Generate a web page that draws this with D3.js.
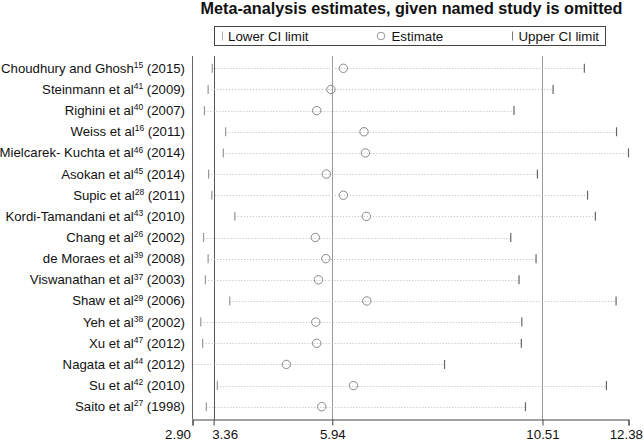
<!DOCTYPE html>
<html>
<head>
<meta charset="utf-8">
<script src="https://cdn.jsdelivr.net/npm/d3@7"></script>
<style>
  html, body { margin: 0; padding: 0; background: #fff; }
  svg { display: block; font-family: "Liberation Sans", Arial, sans-serif; }
</style>
</head>
<body>
<svg id="chart" width="644" height="442"></svg>
<script>
const studyNames = ["Choudhury and Ghosh", "Steinmann et al", "Righini et al", "Weiss et al",
  "Mielcarek- Kuchta et al", "Asokan et al", "Supic et al", "Kordi-Tamandani et al",
  "Chang et al", "de Moraes et al", "Viswanathan et al", "Shaw et al", "Yeh et al",
  "Xu et al", "Nagata et al", "Su et al", "Saito et al"];
const studyRefs = ["15", "41", "40", "16", "46", "45", "28", "43", "26", "39", "37", "29", "38", "47", "44", "42", "27"];
const studyYears = ["2015", "2009", "2007", "2011", "2014", "2014", "2011", "2010", "2002", "2008", "2003", "2006", "2002", "2012", "2012", "2010", "1998"];
const lowerCI = [3.33, 3.24, 3.16, 3.62, 3.57, 3.25, 3.32, 3.82, 3.14, 3.24, 3.18, 3.71, 3.08, 3.12, 2.90, 3.44, 3.20];
const estimate = [6.18, 5.91, 5.60, 6.63, 6.66, 5.81, 6.18, 6.68, 5.57, 5.80, 5.64, 6.69, 5.58, 5.60, 4.94, 6.40, 5.71];
const upperCI = [11.42, 10.74, 9.89, 12.12, 12.38, 10.40, 11.49, 11.66, 9.82, 10.37, 10.00, 12.11, 10.06, 10.05, 8.38, 11.90, 10.14];
const xTicks = [2.90, 3.36, 5.94, 10.51, 12.38];
const refLines = [3.36, 5.94, 10.51];
const legendLabels = ["Lower CI limit", "Estimate", "Upper CI limit"];
const chartTitle = "Meta-analysis estimates, given named study is omitted";

const svg = d3.select("#chart");
const pLeft = 192.5, pRight = 628.5, pTop = 56, pBottom = 419.5;

const x = d3.scaleLinear().domain([2.90, 12.38]).range([pLeft, pRight]);
const idx = d3.range(studyNames.length);
const y = d3.scalePoint().domain(idx).range([68.3, 406.7]);

// title
svg.append("text").attr("x", (pLeft + pRight) / 2 + 1).attr("y", 14)
  .attr("text-anchor", "middle").attr("font-weight", "bold").attr("font-size", 16.2)
  .attr("fill", "#111").text(chartTitle);

// legend
const lg = svg.append("g");
lg.append("rect").attr("x", 214.5).attr("y", 26.5).attr("width", 391).attr("height", 19)
  .attr("fill", "#fff").attr("stroke", "#444").attr("stroke-width", 1);
lg.append("line").attr("x1", 222.5).attr("x2", 222.5).attr("y1", 31.5).attr("y2", 40.5)
  .attr("stroke", "#aaa");
lg.append("text").attr("x", 228).attr("y", 41).attr("font-size", 13.3).attr("fill", "#111").text(legendLabels[0]);
lg.append("circle").attr("cx", 381).attr("cy", 36).attr("r", 3.8).attr("fill", "none").attr("stroke", "#999");
lg.append("text").attr("x", 391.5).attr("y", 41).attr("font-size", 13.3).attr("fill", "#111").text(legendLabels[1]);
lg.append("line").attr("x1", 512.5).attr("x2", 512.5).attr("y1", 31.5).attr("y2", 40.5)
  .attr("stroke", "#777");
lg.append("text").attr("x", 518.5).attr("y", 41).attr("font-size", 13.3).attr("fill", "#111").text(legendLabels[2]);

// reference lines
svg.selectAll("line.ref").data(refLines).enter().append("line")
  .attr("class", "ref")
  .attr("x1", d => Math.round(x(d)) + 0.5).attr("x2", d => Math.round(x(d)) + 0.5)
  .attr("y1", pTop).attr("y2", pBottom)
  .attr("stroke", (d, i) => i === 0 ? "#555" : "#999").attr("stroke-width", 1);

// dotted CI lines
svg.selectAll("line.ci").data(idx).enter().append("line")
  .attr("class", "ci")
  .attr("x1", i => x(lowerCI[i])).attr("x2", i => x(upperCI[i]))
  .attr("y1", i => Math.round(y(i)) + 0.5).attr("y2", i => Math.round(y(i)) + 0.5)
  .attr("stroke", "#bbb").attr("stroke-width", 1).attr("stroke-dasharray", "1,2");

// lower ticks
svg.selectAll("line.lo").data(idx).enter().append("line")
  .attr("class", "lo")
  .attr("x1", i => x(lowerCI[i])).attr("x2", i => x(lowerCI[i]))
  .attr("y1", i => y(i) - 4.5).attr("y2", i => y(i) + 4.5)
  .attr("stroke", "#999").attr("stroke-width", 1.2);

// upper ticks
svg.selectAll("line.up").data(idx).enter().append("line")
  .attr("class", "up")
  .attr("x1", i => x(upperCI[i])).attr("x2", i => x(upperCI[i]))
  .attr("y1", i => y(i) - 4.5).attr("y2", i => y(i) + 4.5)
  .attr("stroke", "#666").attr("stroke-width", 1.2);

// estimates
svg.selectAll("circle.est").data(idx).enter().append("circle")
  .attr("class", "est")
  .attr("cx", i => x(estimate[i])).attr("cy", i => y(i)).attr("r", 4.2)
  .attr("fill", "none").attr("stroke", "#888").attr("stroke-width", 1);

// y axis line
svg.append("line").attr("x1", pLeft).attr("x2", pLeft).attr("y1", pTop).attr("y2", pBottom)
  .attr("stroke", "#666");

// y labels
const yl = svg.selectAll("text.ylab").data(idx).enter().append("text")
  .attr("class", "ylab")
  .attr("x", 185).attr("y", i => y(i) + 4.5)
  .attr("text-anchor", "end").attr("font-size", 13.2).attr("fill", "#111");
yl.append("tspan").text(i => studyNames[i]);
yl.append("tspan").attr("font-size", 8.5).attr("dy", -4.8).text(i => studyRefs[i]);
yl.append("tspan").attr("dy", 4.8).text(i => " (" + studyYears[i] + ")");

// x axis
const xAxis = d3.axisBottom(x).tickValues(xTicks).tickFormat(d3.format(".2f")).tickSizeOuter(0).tickSize(6);
const gx = svg.append("g").attr("transform", `translate(0,${pBottom})`).call(xAxis);
gx.select(".domain").attr("stroke", "#444");
gx.selectAll(".tick line").attr("stroke", "#444");
const nT = xTicks.length;
gx.selectAll(".tick text").attr("font-size", 13.3).attr("fill", "#111")
  .attr("font-family", "'Liberation Sans', Arial, sans-serif")
  .attr("y", 19).attr("dy", 0)
  .attr("text-anchor", (d, i) => i === 0 ? "end" : (i === 1 ? "start" : (i === nT - 1 ? "end" : "middle")))
  .attr("dx", (d, i) => i === 0 ? -2 : (i === 1 ? -2 : (i === nT - 1 ? 14 : 0)));
</script>
</body>
</html>
